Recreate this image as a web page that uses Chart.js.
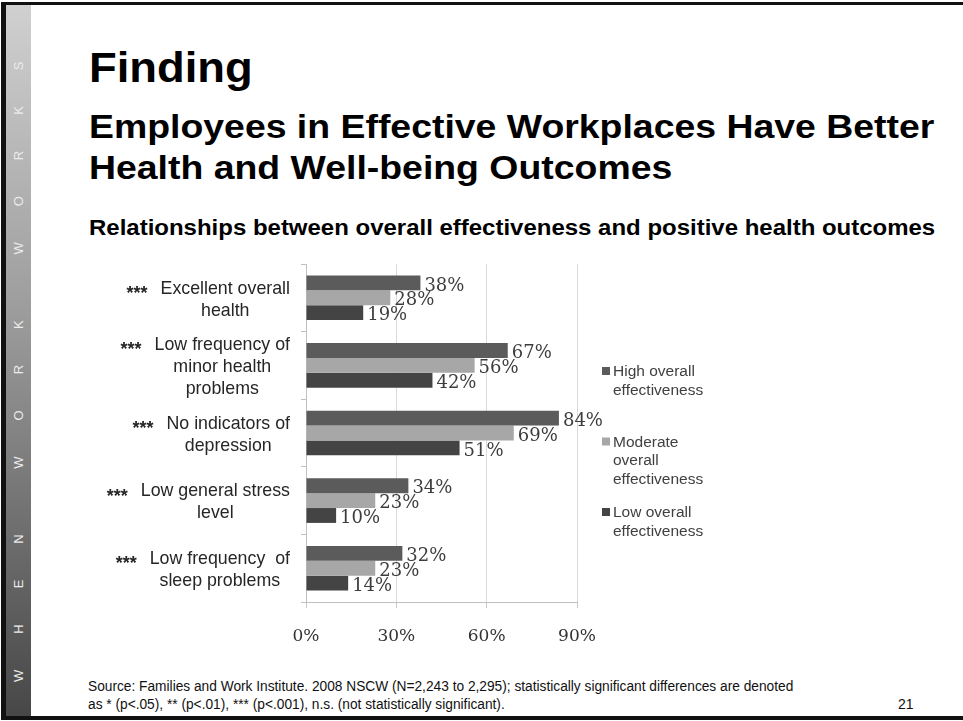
<!DOCTYPE html>
<html>
<head>
<meta charset="utf-8">
<title>Finding</title>
<script src="https://cdn.jsdelivr.net/npm/chart.js@4.4.1/dist/chart.umd.min.js"></script>
<style>
  html, body { margin: 0; padding: 0; background: #fff; }
  #slide {
    position: relative; width: 963px; height: 721px; overflow: hidden;
    background: #fff; font-family: Arial, "Liberation Sans", sans-serif; color: #000;
  }
  #frame {
    position: absolute; left: 1px; top: 2px; width: 980px; height: 718px;
    box-sizing: border-box; border: 5px solid #111; border-top-width: 3px; border-bottom-width: 4px; border-right: none;
  }
  #strip {
    position: absolute; left: 6px; top: 5px; width: 25px; height: 711px;
    background: linear-gradient(to bottom, #d0d0d0 0%, #9a9a9a 45%, #474747 100%);
  }
  #stripText {
    position: absolute; left: 6px; top: 40px; width: 25px; height: 642px;
    writing-mode: vertical-rl; transform: rotate(180deg);
    font-size: 13px; color: #ececec; letter-spacing: 36px; word-spacing: -10px;
    line-height: 25px; text-align: left; white-space: nowrap;
  }
  .t { position: absolute; left: 89px; font-weight: bold; transform-origin: 0 0; white-space: nowrap; }
  #title { top: 47px; font-size: 42px; line-height: 42px; transform: scaleX(1.08); }
  #subtitle { top: 106px; font-size: 34px; line-height: 41px; transform: scaleX(1.1); }
  #caption { top: 216px; font-size: 22px; line-height: 24px; transform: scaleX(1.09); }
  #source {
    position: absolute; left: 88px; top: 677px; font-size: 14px; line-height: 18px;
    font-family: "Liberation Sans Narrow", "Arial Narrow", Arial, sans-serif; color: #111;
    transform-origin: 0 0; transform: scaleX(0.98); white-space: nowrap;
  }
  #pageNo {
    position: absolute; left: 898px; top: 695px; font-size: 14px; line-height: 18px;
    font-family: "Liberation Sans Narrow", "Arial Narrow", Arial, sans-serif; color: #111;
  }
  #chartBox { position: absolute; left: 90px; top: 255px; width: 640px; height: 400px; }
</style>
</head>
<body>
<div id="slide">
  <div id="frame"></div>
  <div id="strip"></div>
  <div id="stripText">WHEN WORK WORKS</div>
  <div class="t" id="title">Finding</div>
  <div class="t" id="subtitle">Employees in Effective Workplaces Have Better<br>Health and Well-being Outcomes</div>
  <div class="t" id="caption">Relationships between overall effectiveness and positive health outcomes</div>
  <div id="chartBox"><canvas id="myChart" width="640" height="400"></canvas></div>
  <div id="source">Source: Families and Work Institute. 2008 NSCW (N=2,243 to 2,295); statistically significant differences are denoted<br>as * (p&lt;.05), ** (p&lt;.01), *** (p&lt;.001), n.s. (not statistically significant).</div>
  <div id="pageNo">21</div>
</div>
<script>
// outcome categories, one array of lines per label
var categories = [
    ["Excellent overall", "health"],
    ["Low frequency of", "minor health", "problems"],
    ["No indicators of", "depression"],
    ["Low general stress", "level"],
    ["Low frequency  of", "sleep problems"]
];
var significance = ["***", "***", "***", "***", "***"];

var seriesNames = ["High overall\neffectiveness", "Moderate\noverall\neffectiveness", "Low overall\neffectiveness"];
var highValues = [38, 67, 84, 34, 32];
var moderateValues = [28, 56, 69, 23, 23];
var lowValues = [19, 42, 51, 10, 14];

var xTicks = [0, 30, 60, 90];

var serifFont = "\"DejaVu Serif\", \"Liberation Serif\", serif";
var sansFont = "Arial, \"Liberation Sans\", sans-serif";

// category labels with the significance stars, drawn left of the y axis
var categoryLabels = {
    id: "categoryLabels",
    afterDraw: function (chart) {
        var ctx = chart.ctx;
        var yScale = chart.scales.y;
        var rightEdge = yScale.right - 16;
        var lineGap = 22;
        ctx.save();
        categories.forEach(function (lines, i) {
            ctx.font = "17.8px " + sansFont;
            var widest = 0;
            lines.forEach(function (l) { widest = Math.max(widest, ctx.measureText(l).width); });
            var cx = rightEdge - widest / 2;
            var firstY = yScale.getPixelForValue(i) + 2 - (lines.length - 1) * lineGap / 2;
            ctx.fillStyle = "#262626";
            ctx.textAlign = "center";
            ctx.textBaseline = "middle";
            lines.forEach(function (l, k) { ctx.fillText(l, cx, firstY + k * lineGap); });
            // stars sit just before the first line
            var firstLeft = cx - ctx.measureText(lines[0]).width / 2;
            ctx.font = "bold 18px " + sansFont;
            ctx.textAlign = "right";
            ctx.textBaseline = "alphabetic";
            ctx.fillText(significance[i], firstLeft - 13, firstY + 10);
        });
        ctx.restore();
    }
};

// value labels at the end of every bar
var valueLabels = {
    id: "valueLabels",
    afterDatasetsDraw: function (chart) {
        var ctx = chart.ctx;
        ctx.save();
        ctx.font = "18px " + serifFont;
        ctx.fillStyle = "#3d3d3d";
        ctx.textAlign = "left";
        ctx.textBaseline = "middle";
        chart.data.datasets.forEach(function (ds, d) {
            chart.getDatasetMeta(d).data.forEach(function (bar, i) {
                ctx.fillText(ds.data[i] + "%", bar.x + 4, bar.y + 3);
            });
        });
        ctx.restore();
    }
};

// legend on the right, names may wrap over several lines
var sideLegend = {
    id: "sideLegend",
    afterDraw: function (chart) {
        var ctx = chart.ctx;
        var x = chart.chartArea.right + 25;
        var top = 117;
        ctx.save();
        ctx.font = "15.5px " + sansFont;
        ctx.textAlign = "left";
        ctx.textBaseline = "middle";
        chart.data.datasets.forEach(function (ds, d) {
            var y0 = top + d * 70.5;
            ctx.fillStyle = ds.backgroundColor;
            ctx.fillRect(x, y0 - 5, 8, 8);
            ctx.fillStyle = "#404040";
            ds.label.split("\n").forEach(function (l, k) {
                ctx.fillText(l, x + 11, y0 + k * 18.5);
            });
        });
        ctx.restore();
    }
};

var ctx = document.getElementById("myChart").getContext("2d");
window.myChart = new Chart(ctx, {
    type: "bar",
    data: {
        labels: categories,
        datasets: [
            { label: seriesNames[0], data: highValues, backgroundColor: "#5b5b5b" },
            { label: seriesNames[1], data: moderateValues, backgroundColor: "#a7a7a7" },
            { label: seriesNames[2], data: lowValues, backgroundColor: "#444444" }
        ]
    },
    options: {
        indexAxis: "y",
        responsive: false,
        animation: false,
        layout: { padding: { top: 9, right: 153, left: 0, bottom: 0 } },
        datasets: { bar: { categoryPercentage: 0.66, barPercentage: 1.0 } },
        plugins: { legend: { display: false }, tooltip: { enabled: false } },
        scales: {
            x: {
                min: xTicks[0],
                max: xTicks[xTicks.length - 1],
                afterBuildTicks: function (scale) {
                    scale.ticks = xTicks.map(function (v) { return { value: v }; });
                },
                afterFit: function (scale) { scale.height = 53; },
                grid: { color: "#d9d9d9", tickLength: 6, tickColor: "#c8c8c8" },
                border: { color: "#c0c0c0" },
                ticks: {
                    padding: 18,
                    color: "#333333",
                    font: { family: serifFont, size: 17 },
                    callback: function (v) { return v + "%"; }
                }
            },
            y: {
                afterFit: function (scale) { scale.width = 216; },
                grid: { drawOnChartArea: false, tickLength: 5, color: "#c0c0c0", offset: true },
                border: { color: "#c0c0c0" },
                ticks: { display: false }
            }
        }
    },
    plugins: [categoryLabels, valueLabels, sideLegend]
});
</script>
</body>
</html>
